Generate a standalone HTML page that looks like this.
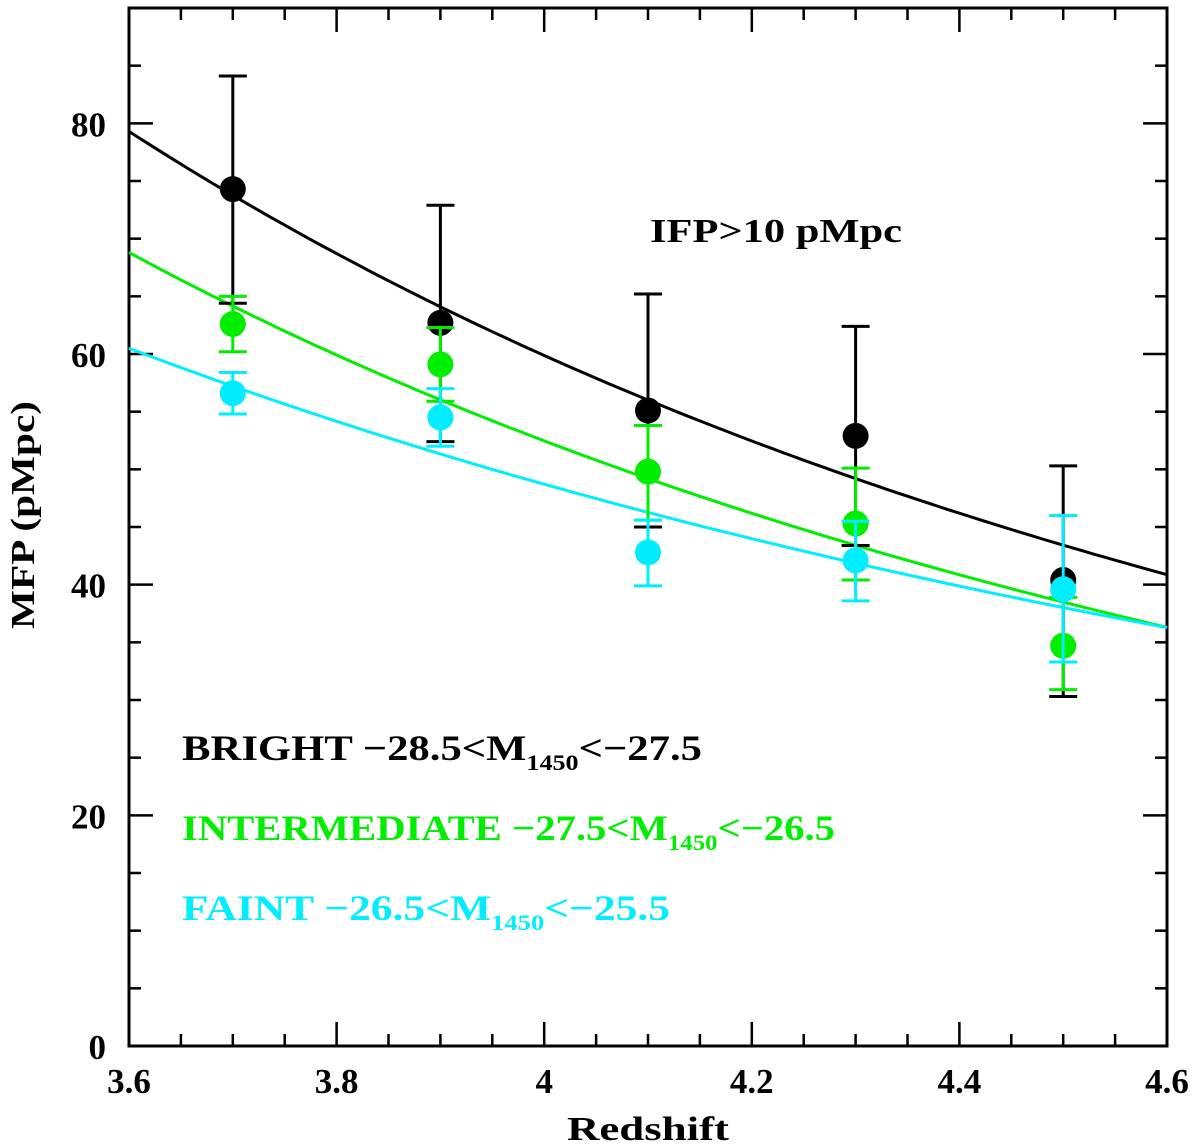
<!DOCTYPE html>
<html><head><meta charset="utf-8"><style>
html,body{margin:0;padding:0;background:#fff;}
svg{display:block;}
text{font-family:"Liberation Serif",serif;}
</style></head><body>
<svg id="chart" width="1200" height="1145" viewBox="0 0 1200 1145" xmlns="http://www.w3.org/2000/svg">
<rect x="129" y="8" width="1038" height="1038" fill="none" stroke="#000" stroke-width="3"/>
<g id="ticks"></g>
<g id="curves"></g>
<g id="points"></g>
<text x="648" y="1140" font-size="34" font-weight="bold" text-anchor="middle" textLength="162" lengthAdjust="spacingAndGlyphs">Redshift</text>
<text transform="translate(34,515) rotate(-90)" font-size="34" font-weight="bold" text-anchor="middle" textLength="228" lengthAdjust="spacingAndGlyphs">MFP (pMpc)</text>
<text x="650" y="242" font-size="34" font-weight="bold" textLength="252" lengthAdjust="spacingAndGlyphs">IFP&gt;10 pMpc</text>
<text x="182" y="760" font-size="36" font-weight="bold" fill="#000" textLength="520" lengthAdjust="spacingAndGlyphs">BRIGHT −28.5&lt;M<tspan font-size="22" dy="10">1450</tspan><tspan dy="-10">&lt;−27.5</tspan></text>
<text x="182" y="840" font-size="36" font-weight="bold" fill="#00ee00" textLength="653" lengthAdjust="spacingAndGlyphs">INTERMEDIATE −27.5&lt;M<tspan font-size="22" dy="10">1450</tspan><tspan dy="-10">&lt;−26.5</tspan></text>
<text x="182" y="920" font-size="36" font-weight="bold" fill="#00eeff" textLength="488" lengthAdjust="spacingAndGlyphs">FAINT −26.5&lt;M<tspan font-size="22" dy="10">1450</tspan><tspan dy="-10">&lt;−25.5</tspan></text>
</svg>
<script>
const xTicks = [3.6, 3.8, 4.0, 4.2, 4.4, 4.6];
const xTickLabels = ["3.6", "3.8", "4", "4.2", "4.4", "4.6"];
const yTicks = [0, 20, 40, 60, 80];
const yTickLabels = ["0", "20", "40", "60", "80"];
const redshifts = [3.7, 3.9, 4.1, 4.3, 4.5];
const brightVals = [74.3, 62.7, 55.1, 52.9, 40.4];
const brightHi = [84.1, 72.9, 65.2, 62.4, 50.3];
const brightLo = [64.4, 52.4, 45.0, 43.4, 30.3];
const interVals = [62.6, 59.1, 49.8, 45.3, 34.7];
const interHi = [65.0, 62.3, 53.8, 50.1, 38.9];
const interLo = [60.2, 55.9, 45.6, 40.4, 30.9];
const faintVals = [56.6, 54.5, 42.8, 42.1, 39.6];
const faintHi = [58.4, 57.0, 45.6, 45.5, 46.0];
const faintLo = [54.8, 52.0, 39.9, 38.6, 33.3];
const curveAmp = [79.3, 68.8, 60.5];   // MFP at z=3.6
const curveSlope = [3.37, 3.25, 2.6];  // power-law index in (1+z)

const X0=129, X1=1167, Y0=1046, Y1=8, XMIN=3.6, XMAX=4.6, YMIN=0, YMAX=90;
const sx = v => X0 + (v - XMIN) / (XMAX - XMIN) * (X1 - X0);
const sy = v => Y0 - (v - YMIN) / (YMAX - YMIN) * (Y0 - Y1);
const NS = "http://www.w3.org/2000/svg";
function mk(tag, attrs, parent) {
  const e = document.createElementNS(NS, tag);
  for (const k in attrs) e.setAttribute(k, attrs[k]);
  parent.appendChild(e);
  return e;
}
const tg = document.getElementById('ticks');
const svg = document.getElementById('chart');
for (let i = 0; i <= 20; i++) {
  const v = XMIN + i * 0.05, x = sx(v), major = i % 4 === 0, L = major ? 24 : 12;
  const t1 = mk('line', {x1:x, x2:x, y1:Y0, y2:Y0-L, stroke:'#000','stroke-width':2.5}, tg);
  
  
  const t2 = mk('line', {x1:x, x2:x, y1:Y1, y2:Y1+L, stroke:'#000','stroke-width':2.5}, tg);
  
  
}
for (let v = 0; v <= 90; v += 5) {
  const y = sy(v), major = v % 20 === 0, L = major ? 24 : 12;
  const t1 = mk('line', {x1:X0, x2:X0+L, y1:y, y2:y, stroke:'#000','stroke-width':2.5}, tg);
  
  
  const t2 = mk('line', {x1:X1, x2:X1-L, y1:y, y2:y, stroke:'#000','stroke-width':2.5}, tg);
  
  
}
xTicks.forEach((v, i) => {
  const t = mk('text', {x:sx(v), y:1093, 'font-size':35, 'font-weight':'bold', 'text-anchor':'middle'}, svg);
  t.textContent = xTickLabels[i];
  
  
});
yTicks.forEach((v, i) => {
  const t = mk('text', {x:106, y:sy(v)+13, 'font-size':35, 'font-weight':'bold', 'text-anchor':'end'}, svg);
  t.textContent = yTickLabels[i];
  
  
});
const colors = ['#000000', '#00ee00', '#00eeff'];
const names = ['bright', 'intermediate', 'faint'];
const cg = document.getElementById('curves');
curveAmp.forEach((a, k) => {
  let d = '';
  for (let i = 0; i <= 100; i++) {
    const z = XMIN + i * (XMAX - XMIN) / 100;
    const m = a * Math.pow((1 + z) / (1 + XMIN), -curveSlope[k]);
    d += (i ? 'L' : 'M') + sx(z).toFixed(1) + ',' + sy(m).toFixed(1);
  }
  const p = mk('path', {d:d, fill:'none', stroke:colors[k], 'stroke-width':3}, cg);
  
  
});
const pg = document.getElementById('points');
const sets = [[brightVals, brightHi, brightLo], [interVals, interHi, interLo], [faintVals, faintHi, faintLo]];
sets.forEach((s, k) => {
  redshifts.forEach((z, i) => {
    const x = sx(z), c = colors[k];
    const e = mk('path', {d:`M${x},${sy(s[1][i])}V${sy(s[2][i])}M${x-14},${sy(s[1][i])}H${x+14}M${x-14},${sy(s[2][i])}H${x+14}`, stroke:c, 'stroke-width':3, fill:'none'}, pg);
    
    
    const m = mk('circle', {cx:x, cy:sy(s[0][i]), r:13, fill:c}, pg);
    
    
  });
});
</script>
</body></html>
